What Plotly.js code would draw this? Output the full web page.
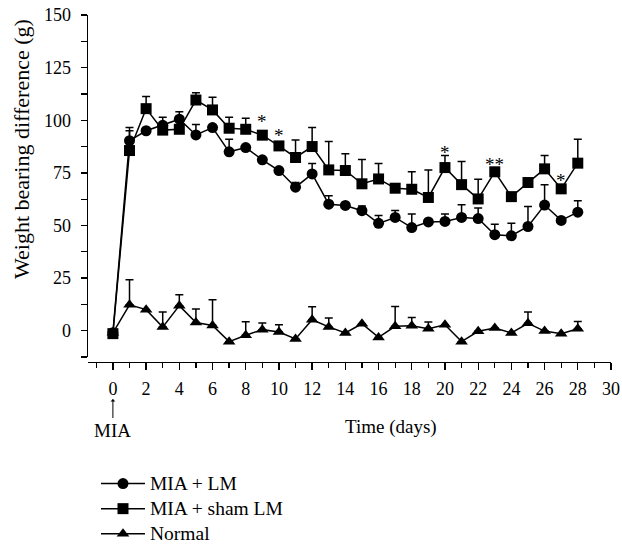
<!DOCTYPE html>
<html>
<head>
<meta charset="utf-8">
<script src="https://cdn.plot.ly/plotly-3.0.1.min.js"></script>
<style>html,body{margin:0;padding:0;background:#fff;}#chart{width:622px;height:546px;}</style>
</head>
<body>
<div id="chart"></div>
<script>
// ---- data ----
const days = [0,1,2,3,4,5,6,7,8,9,10,11,12,13,14,15,16,17,18,19,20,21,22,23,24,25,26,27,28];

const lmValues = [-1, 90.3, 95, 97.6, 100.5, 93, 96.5, 85, 87, 81.2, 76.1, 68.2, 74.5, 60.1, 59.5, 57, 51, 53.8, 49, 51.7, 51.9, 53.8, 53.3, 45.6, 45.1, 49.5, 59.7, 52.4, 56.3];
const lmErr    = [0, 4.7, 0, 3.8, 3.5, 5, 0, 6, 0, 0, 0, 2.2, 5, 4, 0, 2.3, 3.7, 3.3, 6.5, 0, 3.5, 6, 5, 5, 5.9, 9.5, 9.6, 0, 5.5];

const shamValues = [-1.4, 85.6, 105.5, 95.3, 95.7, 109.6, 104.9, 96.2, 95.7, 92.9, 87.8, 82.3, 87.5, 76.4, 76.1, 69.8, 72.1, 67.7, 67.2, 63.3, 77.5, 69.4, 62.6, 75.5, 63.7, 70.4, 76.9, 67.4, 79.6];
const shamErr    = [0, 11, 5.8, 0, 0, 3.5, 6, 5.2, 5.3, 0, 0, 8.3, 9, 13.5, 8, 11.5, 7.3, 0, 8.3, 13, 5.8, 11, 9.4, 0, 0, 0, 6.3, 0, 11.4];

const normalValues = [-1, 12.3, 10, 1.7, 11.9, 3.9, 2.5, -5.2, -2.2, 0.5, -0.6, -3.9, 5.2, 1.8, -1.1, 3.3, -3.2, 2.1, 2.4, 0.9, 2.8, -5.2, -0.3, 1.3, -1.1, 3.5, -0.2, -1.4, 0.9];
const normalErr    = [0, 11.9, 0, 7.2, 5.2, 6.4, 12.2, 0, 6.5, 3.1, 3.4, 0, 6.2, 4.2, 0, 0, 0, 9.4, 3.9, 3.2, 0, 0, 0, 0, 0, 5.4, 0, 0, 3.5];

const starDays   = [9, 10, 20, 23, 27];
const starLabels = ['*', '*', '*', '**', '*'];
const starValues = [101.4, 94.6, 86.4, 80.7, 73.2];

const seriesNames = ['MIA + LM', 'MIA + sham LM', 'Normal'];
const xTickVals = [0,2,4,6,8,10,12,14,16,18,20,22,24,26,28,30];
const yTickVals = [0,25,50,75,100,125,150];

// ---- styling ----
const FONT = 'Liberation Serif, Times New Roman, serif';
const zeros = a => a.map(() => 0);
const legendLabel = s => '<span style="font-size:19.5px">' + s + '</span>';
function errBar(arr){
  return {type:'data', symmetric:false, array:arr, arrayminus:zeros(arr), color:'#000', thickness:1.5, width:4};
}

const traces = [
  {x: days, y: lmValues, name: legendLabel(seriesNames[0]), type:'scatter', mode:'lines+markers',
   line:{color:'#000', width:1.5}, marker:{symbol:'circle', size:11, color:'#000'},
   error_y: errBar(lmErr), legendrank: 1},
  {x: days, y: normalValues, name: legendLabel(seriesNames[2]), type:'scatter', mode:'lines+markers',
   line:{color:'#000', width:1.5}, marker:{symbol:'triangle-up', size:11, color:'#000'},
   error_y: errBar(normalErr), legendrank: 3},
  {x: days, y: shamValues, name: legendLabel(seriesNames[1]), type:'scatter', mode:'lines+markers',
   line:{color:'#000', width:1.5}, marker:{symbol:'square', size:11, color:'#000'},
   error_y: errBar(shamErr), legendrank: 2}
];

// plot geometry (pixels)
const L = 88, R = 11, T = 15, B = 184;
const H = 546 - T - B; // 347
const W = 622 - L - R; // 523
const py = px => (546 - B - px) / H;     // pixel y -> paper y
const pxX = px => (px - L) / W;          // pixel x -> paper x

const annotations = starDays.map((d, i) => ({
  x: d, y: starValues[i], xref:'x', yref:'y', text: starLabels[i], showarrow:false,
  xanchor:'center', yanchor:'middle',
  font:{family:FONT, size:19, color:'#000'}, yshift:-4
}));
annotations.push({
  x: 0, xref:'x', y: py(399), yref:'paper', text:'MIA', showarrow:true,
  ax: 0, ay: 31, arrowhead: 1, arrowsize: 0.8, arrowwidth: 1, arrowcolor:'#000',
  font:{family:FONT, size:19, color:'#000'}
});
annotations.push({
  x: pxX(391), xref:'paper', y: py(427), yref:'paper', text:'Time (days)', showarrow:false,
  xanchor:'center', yanchor:'middle',
  font:{family:FONT, size:19, color:'#000'}
});
annotations.push({
  x: pxX(21), xref:'paper', y: py(149), yref:'paper', text:'Weight bearing difference (g)', showarrow:false,
  xanchor:'center', yanchor:'middle',
  textangle:-90, font:{family:FONT, size:22, color:'#000'}
});

const layout = {
  width: 622, height: 546,
  margin: {l:L, r:R, t:T, b:B, pad:0, autoexpand:false},
  paper_bgcolor:'#fff', plot_bgcolor:'#fff',
  font: {family: FONT, size: 18, color:'#000'},
  showlegend: true,
  legend: {x: pxX(96), xanchor:'left', y: py(466), yanchor:'top', bgcolor:'rgba(0,0,0,0)',
           font:{family:FONT, size:17, color:'#000'}, itemwidth: 44, tracegroupgap:0},
  xaxis: {
    range: [-1.5, 30], anchor:'free', position: 0, automargin:false,
    tickmode:'array', tickvals: xTickVals, ticktext: xTickVals.map(String),
    ticks:'outside', ticklen:7, tickwidth:1.3, tickcolor:'#000',
    minor: {tickmode:'linear', tick0:-1, dtick:1, ticks:'outside', ticklen:5, tickwidth:1.3, tickcolor:'#000'},
    showline:true, linecolor:'#000', linewidth:1.3,
    showgrid:false, zeroline:false, ticklabelstandoff: 3,
    tickfont:{family:FONT, size:18, color:'#000'}
  },
  yaxis: {
    range: [-12.5, 150], domain: [py(357), 1], automargin:false,
    tickmode:'array', tickvals: yTickVals,
    ticks:'outside', ticklen:6, tickwidth:1.3, tickcolor:'#000',
    minor: {tickmode:'linear', tick0:-12.5, dtick:12.5, ticks:'outside', ticklen:6, tickwidth:1.3, tickcolor:'#000'},
    showline:true, linecolor:'#000', linewidth:1.3,
    showgrid:false, zeroline:false, ticklabelstandoff: 6,
    tickfont:{family:FONT, size:18, color:'#000'}
  },
  annotations: annotations
};

Plotly.newPlot('chart', traces, layout, {displayModeBar:false, staticPlot:true});
</script>
</body>
</html>
